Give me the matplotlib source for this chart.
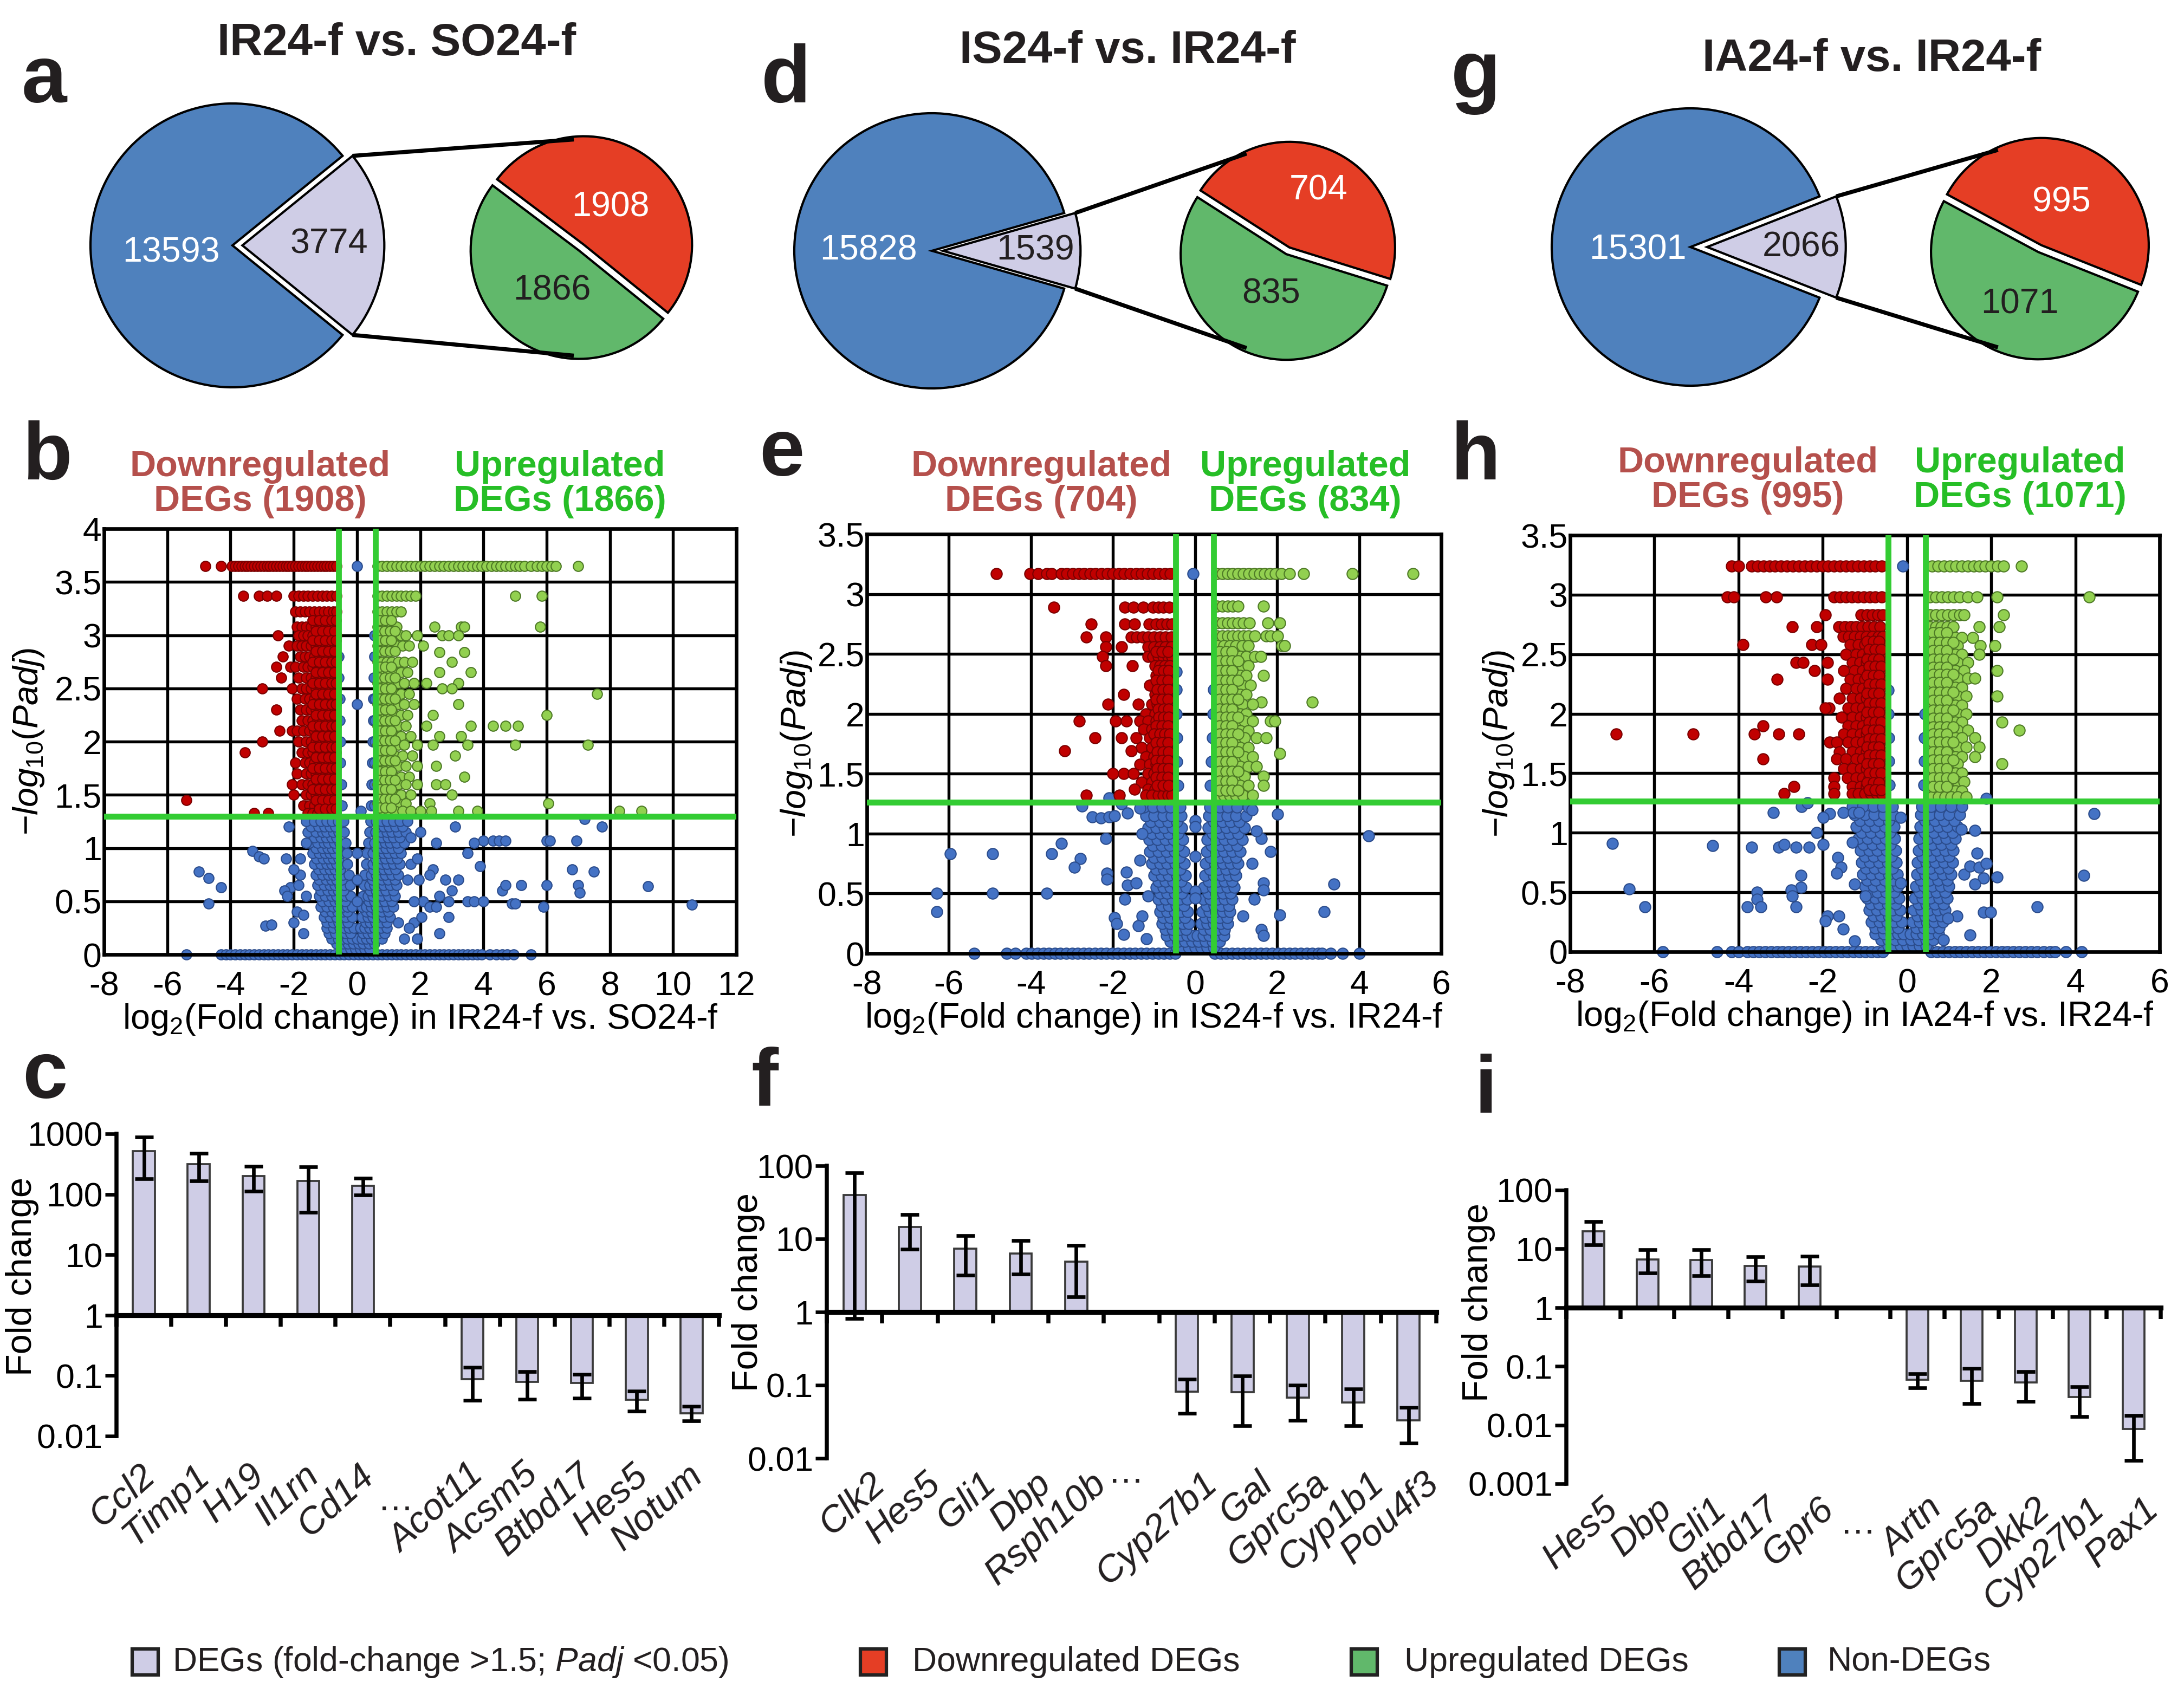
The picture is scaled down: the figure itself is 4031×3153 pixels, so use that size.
import matplotlib
matplotlib.use("Agg")
import matplotlib.pyplot as plt
from matplotlib.patches import ConnectionPatch, Rectangle
from matplotlib.transforms import blended_transform_factory
import numpy as np

plt.rcParams["font.family"] = ["Liberation Sans", "DejaVu Sans"]
plt.rcParams["mathtext.fontset"] = "custom"
plt.rcParams["mathtext.rm"] = "Liberation Sans"
plt.rcParams["mathtext.it"] = "Liberation Sans:italic"
plt.rcParams["mathtext.bf"] = "Liberation Sans:bold"

W, H, DPI = 4031, 3153, 300

# ---------------- data ----------------
# pies: non-DEGs, DEGs, down, up
PIE_A = [13593, 3774, 1908, 1866]
PIE_D = [15828, 1539, 704, 835]
PIE_G = [15301, 2066, 995, 1071]

# volcano b (IR24-f vs SO24-f): rows of (y, [x...]) and scattered (x, y)
B_DOWN = [
    (3.65, [-4.8, -4.3, -3.95, -3.85, -3.75, -3.65, -3.55, -3.45, -3.35, -3.25, -3.15, -3.05, -2.95, -2.85,
            -2.75, -2.65, -2.55, -2.45, -2.35, -2.25, -2.15, -2.05, -1.95, -1.85, -1.75, -1.65, -1.55, -1.45,
            -1.35, -1.25, -1.15, -1.05, -0.95, -0.85, -0.75, -0.65]),
    (3.37, [-3.6, -3.1, -2.85, -2.55, -2.0, -1.85, -1.7, -1.55, -1.4, -1.25, -1.1, -0.95, -0.8, -0.65]),
    (3.22, [-1.95, -1.8, -1.65, -1.5, -1.35, -1.2, -1.05, -0.9, -0.75, -0.65]),
    (3.08, [-1.9, -1.75, -1.6, -1.45, -1.3, -1.15, -1.0, -0.85, -0.7]),
    (3.0, [-2.5, -1.85, -1.7, -1.55, -1.4, -1.25, -1.1, -0.95, -0.8, -0.65]),
    (2.9, [-2.15, -1.9, -1.75, -1.6, -1.45, -1.3, -1.15, -1.0, -0.85, -0.7]),
    (2.8, [-2.35, -1.8, -1.65, -1.5, -1.35, -1.2, -1.05, -0.9, -0.75, -0.65]),
    (2.7, [-2.55, -2.1, -1.95, -1.7, -1.55, -1.4, -1.25, -1.1, -0.95, -0.8, -0.68]),
    (2.6, [-2.4, -1.85, -1.6, -1.45, -1.3, -1.15, -1.0, -0.85, -0.7]),
    (2.5, [-3.0, -2.05, -1.75, -1.6, -1.45, -1.3, -1.15, -1.0, -0.85, -0.7]),
    (2.4, [-1.9, -1.65, -1.5, -1.35, -1.2, -1.05, -0.9, -0.75, -0.65]),
    (2.3, [-2.55, -1.8, -1.6, -1.45, -1.3, -1.15, -1.0, -0.85, -0.7]),
    (2.2, [-1.75, -1.55, -1.4, -1.25, -1.1, -0.95, -0.8, -0.66]),
    (2.1, [-2.45, -2.05, -1.9, -1.7, -1.5, -1.35, -1.2, -1.05, -0.9, -0.75]),
    (2.0, [-3.0, -1.85, -1.6, -1.45, -1.3, -1.15, -1.0, -0.85, -0.7]),
    (1.9, [-3.55, -1.75, -1.55, -1.4, -1.25, -1.1, -0.95, -0.8, -0.66]),
    (1.8, [-1.95, -1.65, -1.5, -1.35, -1.2, -1.05, -0.9, -0.75]),
    (1.7, [-1.9, -1.6, -1.45, -1.3, -1.15, -1.0, -0.85, -0.7]),
    (1.6, [-2.05, -1.75, -1.55, -1.4, -1.25, -1.1, -0.95, -0.8, -0.66]),
    (1.5, [-2.0, -1.6, -1.45, -1.3, -1.15, -1.0, -0.85, -0.7]),
    (1.45, [-5.4]),
    (1.4, [-1.7, -1.5, -1.35, -1.2, -1.05, -0.9, -0.75]),
    (1.33, [-3.25, -2.8, -1.55, -1.4, -1.25, -1.1, -0.95, -0.8, -0.66]),
]
# the solid core of the downregulated cloud
B_DOWN_CORE = [
    (3.14, [-1.4, -1.2, -1.0, -0.8, -0.66]), (3.04, [-1.3, -1.1, -0.9, -0.72]),
    (2.95, [-1.4, -1.2, -1.0, -0.8, -0.66]), (2.85, [-1.3, -1.1, -0.9, -0.72]),
    (2.75, [-1.4, -1.2, -1.0, -0.8, -0.66]), (2.65, [-1.3, -1.1, -0.9, -0.72]),
    (2.55, [-1.4, -1.2, -1.0, -0.8, -0.66]), (2.45, [-1.3, -1.1, -0.9, -0.72]),
    (2.35, [-1.4, -1.2, -1.0, -0.8, -0.66]), (2.25, [-1.3, -1.1, -0.9, -0.72]),
    (2.15, [-1.4, -1.2, -1.0, -0.8, -0.66]), (2.05, [-1.3, -1.1, -0.9, -0.72]),
    (1.95, [-1.4, -1.2, -1.0, -0.8, -0.66]), (1.85, [-1.3, -1.1, -0.9, -0.72]),
    (1.75, [-1.4, -1.2, -1.0, -0.8, -0.66]), (1.65, [-1.3, -1.1, -0.9, -0.72]),
    (1.55, [-1.4, -1.2, -1.0, -0.8, -0.66]), (1.45, [-1.3, -1.1, -0.9, -0.72]),
    (1.37, [-1.2, -1.0, -0.8, -0.66]),
]
B_UP = [
    (3.65, [0.65, 0.8, 0.95, 1.1, 1.25, 1.4, 1.55, 1.7, 1.85, 2.0, 2.15, 2.3, 2.45, 2.6, 2.75, 2.9, 3.05, 3.2,
            3.35, 3.5, 3.65, 3.8, 3.95, 4.1, 4.25, 4.4, 4.55, 4.7, 4.85, 5.0, 5.15, 5.3, 5.5, 5.7, 5.85, 6.0,
            6.15, 6.3, 7.0]),
    (3.37, [0.65, 0.8, 0.95, 1.1, 1.25, 1.4, 1.55, 1.7, 1.85, 5.0, 5.85]),
    (3.22, [0.65, 0.8, 0.95, 1.1, 1.25, 1.4]),
    (3.08, [0.65, 0.8, 0.95, 1.1, 1.25, 2.45, 3.3, 3.4, 5.8]),
    (3.0, [0.65, 0.8, 0.95, 1.1, 1.25, 1.4, 1.55, 1.9, 2.7, 2.9, 3.2]),
    (2.9, [0.65, 0.8, 0.95, 1.1, 1.25, 1.45, 1.65, 2.1]),
    (2.84, [2.6, 3.4]),
    (2.75, [0.65, 0.8, 0.95, 1.1, 1.3, 1.5, 1.75, 3.0]),
    (2.65, [0.7, 0.85, 1.0, 1.2, 1.4, 1.6, 2.6, 3.6]),
    (2.55, [0.65, 0.8, 0.95, 1.1, 1.3, 1.5, 1.8, 2.2, 3.2]),
    (2.5, [2.7, 3.0]),
    (2.45, [0.7, 0.85, 1.0, 1.2, 1.4, 1.65, 7.6]),
    (2.35, [0.65, 0.8, 0.95, 1.1, 1.3, 1.5, 1.8, 3.2]),
    (2.25, [0.7, 0.85, 1.0, 1.2, 1.4, 1.6, 2.4, 6.0]),
    (2.15, [0.65, 0.8, 0.95, 1.1, 1.3, 1.55, 2.2, 3.6, 4.3, 4.7, 5.1]),
    (2.05, [0.7, 0.85, 1.0, 1.2, 1.4, 1.7, 2.6, 3.3]),
    (1.97, [0.65, 0.8, 0.95, 1.1, 1.3, 1.5, 1.9, 2.4, 3.5, 5.0, 7.3]),
    (1.87, [0.7, 0.85, 1.0, 1.2, 1.45, 1.75, 3.1]),
    (1.77, [0.65, 0.8, 0.95, 1.1, 1.3, 1.55, 1.9, 2.5]),
    (1.67, [0.7, 0.85, 1.0, 1.2, 1.4, 1.65, 3.4]),
    (1.6, [0.65, 0.8, 0.95, 1.1, 1.3, 1.55, 1.9, 2.5, 2.8]),
    (1.5, [0.7, 0.85, 1.0, 1.2, 1.4, 1.7, 3.0]),
    (1.42, [0.65, 0.8, 0.95, 1.1, 1.3, 1.55, 2.3, 6.05]),
    (1.35, [0.7, 0.85, 1.0, 1.2, 1.45, 1.7, 2.0, 2.35, 3.2, 3.8, 8.3, 9.0]),
]
B_UP_CORE = [
    (3.14, [0.72, 0.9, 1.08]), (3.04, [0.7, 0.88, 1.05, 1.2]), (2.95, [0.72, 0.9, 1.08]),
    (2.85, [0.7, 0.88, 1.05, 1.2]), (2.7, [0.72, 0.9, 1.08]), (2.6, [0.7, 0.88, 1.05, 1.2]),
    (2.5, [0.72, 0.9, 1.08]), (2.4, [0.7, 0.88, 1.05, 1.2]), (2.3, [0.72, 0.9, 1.08]),
    (2.2, [0.7, 0.88, 1.05, 1.2]), (2.1, [0.72, 0.9, 1.08]), (2.01, [0.7, 0.88, 1.05, 1.2]),
    (1.92, [0.72, 0.9, 1.08]), (1.82, [0.7, 0.88, 1.05, 1.2]), (1.72, [0.72, 0.9, 1.08]),
    (1.64, [0.7, 0.88, 1.05, 1.2]), (1.55, [0.72, 0.9, 1.08]), (1.46, [0.7, 0.88, 1.05, 1.2]),
    (1.38, [0.72, 0.9, 1.08]),
]
B_NON = [
    (0.0, [-5.4, -4.3, -4.15, -4.0, -3.85, -3.7, -3.55, -3.4, -3.25, -3.1, -2.95, -2.8, -2.65, -2.5, -2.35, -2.2,
           -2.05, -1.9, -1.75, -1.6, -1.45, -1.3, -1.15, -1.0, -0.85, -0.7, -0.55, -0.4, -0.25, -0.1, 0.05, 0.2,
           0.35, 0.5, 0.65, 0.8, 0.95, 1.1, 1.25, 1.4, 1.55, 1.7, 1.85, 2.0, 2.15, 2.3, 2.45, 2.6, 2.75, 2.9,
           3.05, 3.2, 3.35, 3.5, 3.65, 3.8, 3.95, 4.2, 4.4, 4.6, 4.75, 4.95, 5.5]),
    (0.05, [-0.5, -0.35, -0.2, -0.05, 0.1, 0.25, 0.4]),
    (0.1, [-0.65, -0.45, -0.28, -0.12, 0.05, 0.2, 0.38, 0.55]),
    (0.15, [-0.8, -0.6, -0.45, -0.3, -0.15, 0.0, 0.15, 0.3, 0.45, 0.6, 0.8]),
    (0.2, [-0.88, -0.68, -0.5, -0.35, -0.2, 0.2, 0.35, 0.5, 0.68, 0.88]),
    (0.25, [-0.95, -0.75, -0.55, -0.4, -0.25, -0.1, 0.1, 0.25, 0.4, 0.55, 0.75, 0.95]),
    (0.3, [-0.95, -0.75, -0.58, -0.42, -0.28, 0.28, 0.42, 0.58, 0.75, 0.95]),
    (0.35, [-1.05, -0.85, -0.65, -0.5, -0.35, -0.15, 0.15, 0.35, 0.5, 0.65, 0.85, 1.05]),
    (0.4, [-1.0, -0.8, -0.62, -0.45, -0.3, 0.3, 0.45, 0.62, 0.8, 1.0]),
    (0.45, [-1.15, -0.95, -0.75, -0.6, -0.45, -0.3, -0.15, 0.15, 0.3, 0.45, 0.6, 0.75, 0.95, 1.15]),
    (0.5, [-1.1, -0.88, -0.7, -0.55, -0.38, 0.38, 0.55, 0.7, 0.88, 1.1]),
    (0.55, [-1.2, -1.0, -0.8, -0.65, -0.5, -0.35, -0.2, 0.2, 0.35, 0.5, 0.65, 0.8, 1.0, 1.2]),
    (0.6, [-1.15, -0.92, -0.75, -0.6, -0.42, 0.42, 0.6, 0.75, 0.92, 1.15]),
    (0.65, [-1.25, -1.05, -0.85, -0.7, -0.55, -0.4, -0.22, 0.22, 0.4, 0.55, 0.7, 0.85, 1.05, 1.25]),
    (0.7, [-1.2, -0.98, -0.8, -0.65, -0.48, 0.48, 0.65, 0.8, 0.98, 1.2]),
    (0.75, [-1.3, -1.1, -0.9, -0.75, -0.6, -0.45, -0.25, 0.25, 0.45, 0.6, 0.75, 0.9, 1.1, 1.3]),
    (0.8, [-1.22, -1.02, -0.85, -0.7, -0.52, 0.52, 0.7, 0.85, 1.02, 1.22]),
    (0.85, [-1.35, -1.15, -0.95, -0.8, -0.65, -0.5, -0.3, 0.3, 0.5, 0.65, 0.8, 0.95, 1.15, 1.35]),
    (0.9, [-1.28, -1.08, -0.9, -0.75, -0.58, 0.58, 0.75, 0.9, 1.08, 1.28]),
    (0.95, [-1.4, -1.2, -1.0, -0.85, -0.7, -0.5, -0.32, 0.32, 0.5, 0.7, 0.85, 1.0, 1.2, 1.4]),
    (1.0, [-1.3, -1.1, -0.92, -0.78, -0.62, 0.62, 0.78, 0.92, 1.1, 1.3]),
    (1.05, [-1.5, -1.25, -1.05, -0.9, -0.72, -0.55, -0.36, 0.36, 0.55, 0.72, 0.9, 1.05, 1.25, 1.5]),
    (1.1, [-1.35, -1.15, -0.98, -0.8, -0.65, 0.65, 0.8, 0.98, 1.15, 1.35]),
    (1.15, [-1.55, -1.3, -1.1, -0.95, -0.75, -0.58, -0.4, 0.4, 0.58, 0.75, 0.95, 1.1, 1.3, 1.55]),
    (1.2, [-1.45, -1.22, -1.02, -0.85, -0.68, 0.68, 0.85, 1.02, 1.22, 1.45]),
    (1.25, [-1.6, -1.35, -1.15, -0.95, -0.78, -0.6, -0.43, 0.43, 0.6, 0.78, 0.95, 1.15, 1.35, 1.6]),
    (1.4, [-0.55, -0.47, 0.45, 0.55]),
    (1.6, [-0.56, -0.5, 0.47, 0.56]),
    (1.8, [-0.57, -0.52, 0.48, 0.56]),
    (2.0, [-0.58, -0.53, 0.5, 0.57]),
    (2.2, [-0.58, -0.55, 0.51, 0.57]),
    (2.4, [-0.58, -0.55, 0.52, 0.57]),
    (2.6, [-0.58, 0.54]),
    (2.8, [-0.58, 0.55]),
    (3.0, [0.56]),
]
B_NON_PTS = [(0.0, 3.65), (0.0, 2.35), (0.12, 1.35), (0.0, 0.95), (0.0, 0.7), (0.0, 0.5),
             (-5.0, 0.78), (-4.7, 0.72), (-4.3, 0.63), (-4.7, 0.48), (-2.9, 0.27), (-2.7, 0.28),
             (-3.3, 0.97), (-3.1, 0.92), (-2.95, 0.9), (-1.8, 0.9), (-2.15, 1.2), (-1.6, 1.05),
             (-1.9, 0.4), (-1.7, 0.37), (-1.6, 0.55), (-2.1, 0.63), (-2.3, 0.6), (-1.8, 0.75),
             (-2.0, 0.8), (-1.85, 0.65), (-2.2, 0.55), (-2.0, 0.3), (-1.7, 0.2), (-2.25, 0.9),
             (2.0, 1.15), (2.4, 0.8), (2.5, 1.05), (3.1, 1.2), (3.5, 0.95), (3.9, 0.83), (3.2, 0.7),
             (2.8, 0.7), (2.6, 0.55), (3.0, 0.6), (2.1, 0.5), (2.3, 0.45), (2.5, 0.45), (2.9, 0.5),
             (3.5, 0.5), (3.7, 0.5), (4.0, 0.5), (4.6, 0.6), (4.7, 0.65), (5.2, 0.65), (6.0, 0.65),
             (7.0, 0.65), (7.05, 0.58), (9.2, 0.64), (10.6, 0.47), (4.9, 0.48), (5.0, 0.48), (5.9, 0.45),
             (7.5, 0.78), (6.8, 0.8), (4.0, 1.07), (4.3, 1.07), (4.5, 1.07), (4.7, 1.07), (6.0, 1.07),
             (6.1, 1.07), (6.95, 1.07), (7.2, 1.27), (7.75, 1.2), (3.7, 1.05), (2.6, 0.2), (2.9, 0.35),
             (1.8, 0.3), (1.5, 0.15), (1.3, 0.3), (1.95, 0.7), (1.7, 0.85), (2.3, 0.75), (1.7, 1.1),
             (1.9, 0.9), (1.6, 0.7), (1.8, 0.5), (2.05, 0.35), (1.65, 0.25), (1.9, 0.15)]

# volcano e (IS24-f vs IR24-f)
E_DOWN = [
    (3.17, [-4.85, -4.03, -3.82, -3.62, -3.5, -3.26, -3.12, -2.98, -2.84, -2.7, -2.56, -2.42, -2.28, -2.14, -2.0,
            -1.86, -1.72, -1.58, -1.44, -1.3, -1.16, -1.02, -0.88, -0.74, -0.6]),
    (2.89, [-3.44, -1.71, -1.5, -1.26, -1.03, -0.9, -0.77, -0.63]),
    (2.75, [-2.53, -1.71, -1.47, -1.12, -0.95, -0.82, -0.68, -0.56]),
    (2.64, [-2.65, -2.18, -1.56, -1.42, -1.28, -1.14, -1.0, -0.86, -0.72, -0.58]),
    (2.56, [-2.18, -1.79, -1.15, -1.0, -0.86, -0.72, -0.58]),
    (2.48, [-2.26, -1.15, -1.02, -0.9, -0.78, -0.66, -0.56]),
    (2.4, [-2.18, -1.53, -0.98, -0.86, -0.74, -0.62]),
    (2.32, [-0.95, -0.82, -0.7, -0.58]),
    (2.24, [-1.1, -0.9, -0.78, -0.66, -0.56]),
    (2.16, [-1.74, -0.98, -0.86, -0.74, -0.62]),
    (2.08, [-2.12, -1.38, -1.05, -0.92, -0.8, -0.68, -0.57]),
    (2.0, [-1.2, -0.98, -0.86, -0.74, -0.62]),
    (1.94, [-2.82, -1.94, -1.68, -1.35, -1.15, -0.95, -0.82, -0.7, -0.58]),
    (1.87, [-1.25, -1.05, -0.9, -0.78, -0.66]),
    (1.8, [-2.44, -1.79, -1.44, -1.1, -0.95, -0.82, -0.7, -0.58]),
    (1.72, [-1.3, -1.05, -0.9, -0.78, -0.66]),
    (1.69, [-3.18, -1.56]),
    (1.64, [-1.2, -1.0, -0.86, -0.74, -0.62]),
    (1.58, [-1.35, -1.1, -0.95, -0.82, -0.7, -0.58]),
    (1.5, [-2.0, -1.74, -1.5, -1.15, -1.0, -0.86, -0.74, -0.62]),
    (1.43, [-1.3, -1.05, -0.9, -0.78, -0.66, -0.56]),
    (1.37, [-1.47, -1.15, -0.98, -0.86, -0.74, -0.62]),
    (1.32, [-2.65, -1.85, -1.2, -1.05, -0.9, -0.78, -0.66, -0.56]),
]
E_DOWN_CORE = [
    (2.52, [-0.95, -0.8, -0.66]), (2.36, [-0.9, -0.76, -0.64]), (2.28, [-0.95, -0.8, -0.66]),
    (2.2, [-0.92, -0.78, -0.64]), (2.12, [-0.95, -0.8, -0.66]), (2.04, [-0.9, -0.76, -0.64]),
    (1.97, [-0.88, -0.76, -0.64]), (1.9, [-0.95, -0.8, -0.66]), (1.83, [-1.0, -0.86, -0.74, -0.62]),
    (1.76, [-0.95, -0.8, -0.66]), (1.68, [-0.92, -0.78, -0.64]), (1.61, [-0.95, -0.8, -0.66]),
    (1.54, [-0.92, -0.78, -0.64]), (1.47, [-0.95, -0.8, -0.66]), (1.4, [-0.92, -0.78, -0.64]),
]
E_UP = [
    (3.17, [0.53, 0.66, 0.79, 0.92, 1.05, 1.18, 1.31, 1.44, 1.57, 1.7, 1.83, 1.96, 2.1, 2.3, 2.64, 3.83, 5.31]),
    (2.9, [0.53, 0.66, 0.79, 0.92, 1.05, 1.67]),
    (2.76, [0.53, 0.66, 0.79, 0.92, 1.05, 1.18, 1.33, 1.78, 2.07]),
    (2.65, [0.53, 0.66, 0.79, 0.92, 1.05, 1.18, 1.3, 1.46, 1.73, 1.84, 2.01]),
    (2.57, [0.55, 0.7, 0.85, 1.0, 1.15, 1.3, 2.12, 2.18]),
    (2.48, [0.53, 0.66, 0.8, 0.95, 1.1, 1.25, 1.45, 1.6]),
    (2.4, [0.55, 0.7, 0.85, 1.0, 1.15, 1.3]),
    (2.32, [0.53, 0.66, 0.8, 0.95, 1.1, 1.25, 1.67]),
    (2.24, [0.55, 0.7, 0.85, 1.0, 1.15, 1.35]),
    (2.16, [0.53, 0.66, 0.8, 0.95, 1.1, 1.25]),
    (2.1, [1.61, 2.86]),
    (2.08, [0.55, 0.7, 0.85, 1.0, 1.15, 1.4]),
    (2.0, [0.53, 0.66, 0.8, 0.95, 1.1, 1.25]),
    (1.94, [0.55, 0.7, 0.85, 1.0, 1.2, 1.4, 1.84, 1.95]),
    (1.86, [0.53, 0.66, 0.8, 0.95, 1.1, 1.3]),
    (1.8, [0.55, 0.7, 0.85, 1.0, 1.2, 1.5, 1.73]),
    (1.72, [0.53, 0.66, 0.8, 0.95, 1.1, 1.3]),
    (1.67, [2.07]),
    (1.64, [0.55, 0.7, 0.85, 1.0, 1.2, 1.4]),
    (1.56, [0.53, 0.66, 0.8, 0.95, 1.1, 1.3, 1.5]),
    (1.48, [0.55, 0.7, 0.85, 1.0, 1.2, 1.67]),
    (1.4, [0.53, 0.66, 0.8, 0.95, 1.1, 1.3, 1.67]),
    (1.32, [0.55, 0.7, 0.85, 1.0, 1.16, 1.4]),
]
E_UP_CORE = [
    (2.52, [0.6, 0.75, 0.9]), (2.44, [0.6, 0.75, 0.9, 1.05]), (2.36, [0.6, 0.75, 0.9]),
    (2.28, [0.6, 0.75, 0.9, 1.05]), (2.2, [0.6, 0.75, 0.9]), (2.12, [0.6, 0.75, 0.9, 1.05]),
    (2.04, [0.6, 0.75, 0.9]), (1.97, [0.6, 0.75, 0.9, 1.05]), (1.9, [0.6, 0.75, 0.9]),
    (1.83, [0.6, 0.75, 0.9, 1.05]), (1.76, [0.6, 0.75, 0.9]), (1.68, [0.6, 0.75, 0.9, 1.05]),
    (1.6, [0.6, 0.75, 0.9]), (1.52, [0.6, 0.75, 0.9, 1.05]), (1.44, [0.6, 0.75, 0.9]),
    (1.36, [0.6, 0.75, 0.9, 1.05]),
]
E_NON = [
    (0.0, [-5.38, -4.59, -4.38, -4.12, -3.98, -3.84, -3.7, -3.56, -3.42, -3.28, -3.14, -3.0, -2.86, -2.72, -2.58,
           -2.44, -2.3, -2.16, -2.02, -1.88, -1.74, -1.6, -1.46, -1.32, -1.18, -1.04, -0.9, -0.76, -0.62, -0.48,
           0.48, 0.62, 0.76, 0.9, 1.04, 1.18, 1.32, 1.46, 1.6, 1.74, 1.88, 2.02, 2.16, 2.3, 2.44, 2.58, 2.72,
           2.86, 3.0, 3.1, 3.3, 3.6, 4.0]),
    (0.05, [-0.45, -0.3, -0.15, 0.0, 0.15, 0.3, 0.45]),
    (0.1, [-0.6, -0.42, -0.25, -0.08, 0.08, 0.25, 0.42, 0.6]),
    (0.15, [-0.7, -0.5, -0.35, -0.2, -0.06, 0.06, 0.2, 0.35, 0.5, 0.7]),
    (0.2, [-0.72, -0.55, -0.38, -0.22, 0.22, 0.38, 0.55, 0.72]),
    (0.25, [-0.8, -0.62, -0.45, -0.3, -0.15, 0.15, 0.3, 0.45, 0.62, 0.8]),
    (0.3, [-0.78, -0.6, -0.42, -0.25, 0.25, 0.42, 0.6, 0.78]),
    (0.35, [-0.85, -0.68, -0.5, -0.35, -0.18, 0.18, 0.35, 0.5, 0.68, 0.85]),
    (0.4, [-0.82, -0.64, -0.46, -0.28, 0.28, 0.46, 0.64, 0.82]),
    (0.45, [-0.9, -0.72, -0.55, -0.38, -0.2, 0.2, 0.38, 0.55, 0.72, 0.9]),
    (0.5, [-0.86, -0.68, -0.5, -0.32, 0.32, 0.5, 0.68, 0.86]),
    (0.55, [-0.95, -0.78, -0.6, -0.42, -0.22, 0.22, 0.42, 0.6, 0.78, 0.95]),
    (0.6, [-0.9, -0.72, -0.54, -0.34, 0.34, 0.54, 0.72, 0.9]),
    (0.65, [-1.0, -0.82, -0.64, -0.45, -0.24, 0.24, 0.45, 0.64, 0.82, 1.0]),
    (0.7, [-0.95, -0.76, -0.56, -0.36, 0.36, 0.56, 0.76, 0.95]),
    (0.75, [-1.05, -0.86, -0.68, -0.48, -0.26, 0.26, 0.48, 0.68, 0.86, 1.05]),
    (0.8, [-1.0, -0.8, -0.6, -0.38, 0.38, 0.6, 0.8, 1.0]),
    (0.85, [-1.1, -0.9, -0.7, -0.5, -0.28, 0.28, 0.5, 0.7, 0.9, 1.1]),
    (0.9, [-1.02, -0.82, -0.62, -0.4, 0.4, 0.62, 0.82, 1.02]),
    (0.95, [-1.12, -0.92, -0.72, -0.52, -0.3, 0.3, 0.52, 0.72, 0.92, 1.15]),
    (1.0, [-1.05, -0.84, -0.64, -0.42, 0.42, 0.64, 0.84, 1.05]),
    (1.05, [-1.15, -0.95, -0.75, -0.55, -0.32, 0.32, 0.55, 0.75, 0.95, 1.2]),
    (1.1, [-1.08, -0.86, -0.66, -0.45, 0.45, 0.66, 0.86, 1.08]),
    (1.15, [-1.2, -1.0, -0.78, -0.58, -0.34, 0.34, 0.58, 0.78, 1.0, 1.25]),
    (1.22, [-1.25, -1.02, -0.8, -0.6, -0.36, 0.36, 0.6, 0.8, 1.02, 1.3]),
    (1.4, [-0.42, 0.38]),
    (1.6, [-0.44, 0.4]),
    (1.8, [-0.45, 0.42]),
    (2.0, [-0.46, 0.44]),
    (2.2, [-0.46, 0.45]),
    (2.35, [-0.46]),
]
E_NON_PTS = [(-0.05, 3.17), (0.0, 1.11), (0.0, 1.06), (0.0, 0.81), (0.0, 0.52), (0.0, 0.46),
             (-5.97, 0.83), (-4.94, 0.83), (-6.29, 0.5), (-4.94, 0.5), (-3.62, 0.5), (-6.29, 0.35),
             (-3.5, 0.83), (-3.26, 0.92), (-2.79, 0.79), (-2.94, 0.72), (-2.15, 0.67), (-2.15, 0.62),
             (-2.18, 0.96), (-2.5, 1.14), (-2.29, 1.13), (-2.09, 1.14), (-1.97, 1.15), (-2.09, 1.3),
             (-2.76, 1.23), (-1.79, 1.25), (-1.65, 1.17), (-1.35, 1.21), (-1.68, 0.68), (-1.65, 0.57),
             (-1.71, 0.45), (-1.97, 0.3), (-1.91, 0.25), (-1.74, 0.16), (-1.29, 0.31), (-1.38, 0.23),
             (-1.18, 0.12), (-1.29, 1.0), (-1.35, 0.78), (-1.44, 0.59), (-1.15, 0.48),
             (4.23, 0.98), (3.38, 0.58), (3.15, 0.35), (2.07, 0.32), (1.84, 0.85), (1.61, 0.96),
             (1.5, 1.02), (2.01, 1.16), (1.39, 1.2), (1.67, 0.59), (1.67, 0.53), (1.44, 0.45),
             (1.61, 0.2), (1.67, 0.15), (1.16, 0.31), (1.39, 0.75)]

# volcano h (IA24-f vs IR24-f)
H_DOWN = [
    (3.24, [-4.16, -4.0, -3.69, -3.55, -3.41, -3.27, -3.13, -2.99, -2.85, -2.71, -2.57, -2.43, -2.29, -2.15, -2.01,
            -1.87, -1.73, -1.59, -1.45, -1.31, -1.17, -1.03, -0.89, -0.75, -0.6]),
    (2.98, [-4.27, -4.11, -3.35, -3.1, -1.73, -1.59, -1.45, -1.31, -1.17, -1.03, -0.89, -0.75, -0.6]),
    (2.83, [-1.94, -1.09, -0.95, -0.82, -0.69, -0.58]),
    (2.73, [-2.73, -2.15, -1.62, -1.48, -1.34, -1.2, -1.06, -0.92, -0.78, -0.64]),
    (2.65, [-1.52, -1.38, -1.24, -1.1, -0.96, -0.82, -0.68, -0.58]),
    (2.58, [-3.9, -2.26, -2.04, -1.35, -1.15, -1.0, -0.86, -0.72, -0.6]),
    (2.5, [-1.45, -1.2, -1.05, -0.9, -0.76, -0.64]),
    (2.43, [-2.63, -2.47, -1.89, -1.3, -1.12, -0.96, -0.82, -0.68, -0.58]),
    (2.36, [-2.2, -1.5, -1.25, -1.05, -0.9, -0.76, -0.64]),
    (2.29, [-3.08, -1.89, -1.35, -1.15, -1.0, -0.86, -0.72, -0.6]),
    (2.21, [-1.45, -1.2, -1.05, -0.9, -0.76, -0.64]),
    (2.13, [-1.6, -1.3, -1.1, -0.96, -0.82, -0.68, -0.58]),
    (2.05, [-1.85, -1.94, -1.4, -1.2, -1.05, -0.9, -0.76, -0.64]),
    (1.97, [-1.55, -1.3, -1.1, -0.96, -0.82, -0.68, -0.58]),
    (1.9, [-3.42, -1.4, -1.2, -1.05, -0.9, -0.76, -0.64]),
    (1.83, [-6.9, -5.08, -3.63, -3.05, -2.57, -1.5, -1.3, -1.1, -0.96, -0.82, -0.68, -0.58]),
    (1.76, [-1.83, -1.67, -1.4, -1.2, -1.05, -0.9, -0.76, -0.64]),
    (1.68, [-1.6, -1.3, -1.1, -0.96, -0.82, -0.68, -0.58]),
    (1.62, [-3.42, -1.67, -1.45, -1.2, -1.05, -0.9, -0.76, -0.64]),
    (1.54, [-1.5, -1.3, -1.1, -0.96, -0.82, -0.68, -0.58]),
    (1.46, [-1.73, -1.41, -1.2, -1.05, -0.9, -0.76, -0.64]),
    (1.39, [-2.68, -1.73, -1.3, -1.1, -0.96, -0.82, -0.68, -0.58]),
    (1.33, [-2.92, -1.73, -1.3, -1.15, -1.0, -0.86, -0.72, -0.6]),
]
H_DOWN_CORE = [
    (2.61, [-0.95, -0.8, -0.66]), (2.54, [-0.9, -0.76, -0.62]), (2.46, [-0.95, -0.8, -0.66]),
    (2.4, [-0.9, -0.76, -0.62]), (2.32, [-0.95, -0.8, -0.66]), (2.25, [-0.9, -0.76, -0.62]),
    (2.17, [-0.95, -0.8, -0.66]), (2.09, [-0.9, -0.76, -0.62]), (2.01, [-0.95, -0.8, -0.66]),
    (1.93, [-0.9, -0.76, -0.62]), (1.86, [-0.95, -0.8, -0.66]), (1.79, [-0.9, -0.76, -0.62]),
    (1.72, [-0.95, -0.8, -0.66]), (1.65, [-0.9, -0.76, -0.62]), (1.58, [-0.95, -0.8, -0.66]),
    (1.5, [-0.9, -0.76, -0.62]), (1.42, [-0.95, -0.8, -0.66]), (1.36, [-0.9, -0.76, -0.62]),
]
H_UP = [
    (3.24, [0.6, 0.74, 0.88, 1.02, 1.16, 1.3, 1.44, 1.58, 1.72, 1.86, 2.0, 2.15, 2.3, 2.72]),
    (2.98, [0.55, 0.69, 0.83, 0.97, 1.11, 1.25, 1.45, 1.66, 2.14, 4.33]),
    (2.83, [0.55, 0.69, 0.83, 0.97, 1.11, 1.25, 1.35, 2.3]),
    (2.73, [0.55, 0.68, 0.82, 0.96, 1.1, 1.72, 2.19]),
    (2.64, [0.55, 0.7, 0.85, 1.0, 1.15, 1.3, 1.56]),
    (2.57, [0.6, 0.75, 0.9, 1.05, 1.2, 1.74, 2.09]),
    (2.5, [0.55, 0.7, 0.85, 1.0, 1.15, 1.3, 1.72]),
    (2.43, [0.6, 0.75, 0.9, 1.05, 1.2, 1.45]),
    (2.36, [0.55, 0.7, 0.85, 1.0, 1.15, 1.35, 2.14]),
    (2.3, [0.6, 0.75, 0.9, 1.05, 1.2, 1.45, 1.61]),
    (2.22, [0.55, 0.7, 0.85, 1.0, 1.15, 1.3]),
    (2.15, [0.6, 0.75, 0.9, 1.05, 1.2, 1.4, 2.14]),
    (2.07, [0.55, 0.7, 0.85, 1.0, 1.15, 1.3]),
    (2.0, [0.6, 0.75, 0.9, 1.05, 1.2, 1.4]),
    (1.93, [0.55, 0.7, 0.85, 1.0, 1.15, 1.3, 2.25]),
    (1.86, [0.6, 0.75, 0.9, 1.05, 1.2, 1.45, 2.67]),
    (1.8, [0.55, 0.7, 0.85, 1.0, 1.15, 1.3, 1.61]),
    (1.72, [0.6, 0.75, 0.9, 1.05, 1.2, 1.4, 1.72]),
    (1.64, [0.55, 0.7, 0.85, 1.0, 1.15, 1.3, 1.61]),
    (1.58, [0.6, 0.75, 0.9, 1.05, 1.2, 2.25]),
    (1.5, [0.55, 0.7, 0.85, 1.0, 1.15, 1.3]),
    (1.43, [0.6, 0.75, 0.9, 1.05, 1.2, 1.35]),
    (1.35, [0.55, 0.7, 0.85, 1.0, 1.15, 1.3]),
    (1.3, [0.6, 0.75, 0.9, 1.05, 1.2, 1.4]),
]
H_NON = [
    (0.0, [-5.8, -4.51, -4.16, -4.0, -3.79, -3.65, -3.51, -3.37, -3.23, -3.09, -2.95, -2.81, -2.67, -2.53, -2.39,
           -2.25, -2.11, -1.97, -1.83, -1.69, -1.55, -1.41, -1.27, -1.13, -0.99, -0.85, -0.71, -0.57, 0.57, 0.71,
           0.85, 0.99, 1.13, 1.27, 1.41, 1.55, 1.69, 1.83, 1.97, 2.11, 2.25, 2.39, 2.53, 2.67, 2.81, 2.95, 3.09,
           3.25, 3.4, 3.52, 3.78, 4.15]),
    (0.05, [-0.45, -0.3, -0.15, 0.0, 0.15, 0.3, 0.45]),
    (0.1, [-0.62, -0.45, -0.28, -0.1, 0.1, 0.28, 0.45, 0.62]),
    (0.15, [-0.75, -0.55, -0.38, -0.22, -0.08, 0.08, 0.22, 0.38, 0.55, 0.75]),
    (0.2, [-0.76, -0.58, -0.4, -0.22, 0.22, 0.4, 0.58, 0.76]),
    (0.25, [-0.85, -0.65, -0.47, -0.3, -0.13, 0.13, 0.3, 0.47, 0.65, 0.85]),
    (0.3, [-0.8, -0.62, -0.43, -0.25, 0.25, 0.43, 0.62, 0.8]),
    (0.35, [-0.9, -0.72, -0.52, -0.34, -0.16, 0.16, 0.34, 0.52, 0.72, 0.9]),
    (0.4, [-0.86, -0.66, -0.46, -0.27, 0.27, 0.46, 0.66, 0.86]),
    (0.45, [-0.95, -0.76, -0.56, -0.37, -0.19, 0.19, 0.37, 0.56, 0.76, 0.95]),
    (0.5, [-0.9, -0.7, -0.5, -0.3, 0.3, 0.5, 0.7, 0.9]),
    (0.55, [-1.0, -0.8, -0.6, -0.4, -0.21, 0.21, 0.4, 0.6, 0.8, 1.0]),
    (0.6, [-0.95, -0.74, -0.53, -0.32, 0.32, 0.53, 0.74, 0.95]),
    (0.65, [-1.05, -0.85, -0.64, -0.43, -0.23, 0.23, 0.43, 0.64, 0.85, 1.05]),
    (0.7, [-0.98, -0.77, -0.56, -0.35, 0.35, 0.56, 0.77, 0.98]),
    (0.75, [-1.08, -0.88, -0.67, -0.46, -0.25, 0.25, 0.46, 0.67, 0.88, 1.08]),
    (0.8, [-1.0, -0.8, -0.58, -0.37, 0.37, 0.58, 0.8, 1.0]),
    (0.85, [-1.1, -0.9, -0.7, -0.49, -0.27, 0.27, 0.49, 0.7, 0.9, 1.1]),
    (0.9, [-1.04, -0.82, -0.6, -0.39, 0.39, 0.6, 0.82, 1.04]),
    (0.95, [-1.15, -0.93, -0.72, -0.51, -0.29, 0.29, 0.51, 0.72, 0.93, 1.15]),
    (1.0, [-1.08, -0.86, -0.63, -0.41, 0.41, 0.63, 0.86, 1.08]),
    (1.05, [-1.2, -0.96, -0.75, -0.53, -0.31, 0.31, 0.53, 0.75, 0.96, 1.2]),
    (1.1, [-1.12, -0.88, -0.66, -0.43, 0.43, 0.66, 0.88, 1.12]),
    (1.15, [-1.25, -1.0, -0.78, -0.55, -0.33, 0.33, 0.55, 0.78, 1.0, 1.25]),
    (1.22, [-1.3, -1.05, -0.8, -0.57, -0.35, 0.35, 0.57, 0.8, 1.05, 1.3]),
    (1.4, [-0.42, 0.4]),
    (1.6, [-0.43, 0.41]),
    (1.8, [-0.44, 0.42]),
    (2.0, [-0.45, 0.43]),
    (2.2, [-0.45]),
]
H_UP_CORE = [
    (2.68, [0.62, 0.78, 0.94]), (2.6, [0.62, 0.78, 0.94, 1.1]), (2.53, [0.62, 0.78, 0.94]),
    (2.46, [0.62, 0.78, 0.94, 1.1]), (2.39, [0.62, 0.78, 0.94]), (2.33, [0.62, 0.78, 0.94, 1.1]),
    (2.26, [0.62, 0.78, 0.94]), (2.18, [0.62, 0.78, 0.94, 1.1]), (2.11, [0.62, 0.78, 0.94]),
    (2.03, [0.62, 0.78, 0.94, 1.1]), (1.96, [0.62, 0.78, 0.94]), (1.89, [0.62, 0.78, 0.94, 1.1]),
    (1.83, [0.62, 0.78, 0.94]), (1.76, [0.62, 0.78, 0.94, 1.1]), (1.68, [0.62, 0.78, 0.94]),
    (1.61, [0.62, 0.78, 0.94, 1.1]), (1.54, [0.62, 0.78, 0.94]), (1.46, [0.62, 0.78, 0.94, 1.1]),
    (1.39, [0.62, 0.78, 0.94]),
]
H_NON_PTS = [(-0.1, 3.24), (-0.15, 1.13), (-0.15, 0.58),
             (-7.0, 0.91), (-6.6, 0.53), (-6.23, 0.38), (-4.62, 0.89), (-3.69, 0.88), (-3.05, 0.88),
             (-2.92, 0.9), (-2.63, 0.88), (-2.33, 0.88), (-1.99, 0.9), (-3.18, 1.17), (-2.5, 1.22),
             (-2.36, 1.25), (-1.83, 1.16), (-1.51, 1.17), (-1.27, 1.17), (-1.14, 1.17), (-2.15, 1.0),
             (-1.99, 1.13), (-1.64, 0.79), (-1.57, 0.71), (-1.67, 0.66), (-2.52, 0.64), (-2.52, 0.54),
             (-2.75, 0.52), (-2.73, 0.47), (-2.63, 0.38), (-3.56, 0.5), (-3.56, 0.44), (-3.79, 0.38),
             (-3.47, 0.38), (-1.89, 0.3), (-1.62, 0.3), (-1.94, 0.26), (-1.51, 0.19), (-1.25, 0.09),
             (-1.25, 0.57), (-0.99, 0.47), (-1.3, 0.92),
             (4.44, 1.16), (4.2, 0.64), (3.09, 0.38), (1.82, 0.33), (1.98, 0.33), (2.14, 0.63),
             (1.82, 0.62), (1.61, 0.57), (1.66, 0.83), (1.29, 1.03), (1.61, 1.02), (1.35, 0.65),
             (1.5, 0.72), (1.72, 0.71), (1.88, 0.74), (1.19, 0.3), (1.5, 0.14), (1.35, 1.29),
             (1.88, 1.29), (0.97, 0.28), (0.87, 0.1)]

# bar charts: fold change, error top, error bottom
C_GENES = ["Ccl2", "Timp1", "H19", "Il1rn", "Cd14", "Acot11", "Acsm5", "Btbd17", "Hes5", "Notum"]
C_FC = [522, 318, 199, 167, 139, 0.087, 0.079, 0.075, 0.040, 0.024]
C_HI = [880, 473, 290, 287, 183, 0.138, 0.117, 0.106, 0.055, 0.031]
C_LO = [180, 165, 113, 50, 97, 0.039, 0.041, 0.042, 0.026, 0.018]

F_GENES = ["Clk2", "Hes5", "Gli1", "Dbp", "Rsph10b", "Cyp27b1", "Gal", "Gprc5a", "Cyp1b1", "Pou4f3"]
F_FC = [40, 14.5, 7.3, 6.3, 4.9, 0.082, 0.080, 0.067, 0.058, 0.033]
F_HI = [80, 21.5, 11.1, 9.5, 8.2, 0.121, 0.134, 0.100, 0.089, 0.050]
F_LO = [0.82, 7.2, 3.2, 3.3, 1.6, 0.041, 0.028, 0.033, 0.028, 0.016]

I_GENES = ["Hes5", "Dbp", "Gli1", "Btbd17", "Gpr6", "Artn", "Gprc5a", "Dkk2", "Cyp27b1", "Pax1"]
I_FC = [20, 6.6, 6.5, 5.1, 5.0, 0.059, 0.057, 0.053, 0.030, 0.0086]
I_HI = [29, 9.6, 9.6, 7.4, 7.5, 0.074, 0.092, 0.081, 0.045, 0.0145]
I_LO = [11.6, 3.9, 3.5, 2.8, 2.45, 0.043, 0.023, 0.025, 0.014, 0.0025]

LEGEND_LABELS = [r"DEGs (fold-change >1.5; $\mathit{Padj}$ <0.05)", "Downregulated DEGs",
                 "Upregulated DEGs", "Non-DEGs"]

# ---------------- style ----------------
PIE_BLUE = "#4F81BD"
LAV = "#CFCDE6"
PIE_RED = "#E53E25"
PIE_GREEN = "#61B86B"
DOT_RED, DOT_RED_E = "#C00000", "#7A0000"
DOT_GREEN, DOT_GREEN_E = "#92D050", "#4E7A26"
DOT_BLUE, DOT_BLUE_E = "#4472C4", "#2B4C8C"
LINE_GREEN = "#33CC33"
TXT = "#231F20"

fig = plt.figure(figsize=(W / DPI, H / DPI), dpi=DPI)


def px_axes(x0, y0, x1, y1):
    return fig.add_axes([x0 / W, 1 - y1 / H, (x1 - x0) / W, (y1 - y0) / H])


def ftext(x, y, s, **kw):
    fig.text(x / W, 1 - y / H, s, **kw)


def flat(*row_sets):
    xs, ys = [], []
    for rows in row_sets:
        for y, xl in rows:
            xs += xl
            ys += [y] * len(xl)
    return xs, ys


# ---------------- pies ----------------
def pie_pair(vals, big_c, big_r, small_c, small_r, expl, red_mid, link, lab_big, lab_small):
    non, deg, down, up = vals
    R = 1.25
    ax1 = px_axes(big_c[0] - R * big_r, big_c[1] - R * big_r, big_c[0] + R * big_r, big_c[1] + R * big_r)
    lav_deg = 360 * deg / (deg + non)
    ax1.pie([deg, non], colors=[LAV, PIE_BLUE], startangle=-lav_deg / 2, explode=[expl, 0],
            wedgeprops=dict(edgecolor="black", linewidth=1.0))
    ax1.set_xlim(-R, R)
    ax1.set_ylim(-R, R)
    ax1.text(lab_big[0][0], lab_big[0][1], str(non), color="white", fontsize=15.5, ha="center", va="center")
    ax1.text(lab_big[1][0], lab_big[1][1], str(deg), color=TXT, fontsize=15.5, ha="center", va="center")

    ax2 = px_axes(small_c[0] - R * small_r, small_c[1] - R * small_r,
                  small_c[0] + R * small_r, small_c[1] + R * small_r)
    red_deg = 360 * down / (down + up)
    ax2.pie([down, up], colors=[PIE_RED, PIE_GREEN], startangle=red_mid - red_deg / 2,
            explode=[0.035, 0.035], wedgeprops=dict(edgecolor="black", linewidth=1.0))
    ax2.set_xlim(-R, R)
    ax2.set_ylim(-R, R)
    ax2.text(lab_small[0][0], lab_small[0][1], str(down), color="white", fontsize=15.5, ha="center", va="center")
    ax2.text(lab_small[1][0], lab_small[1][1], str(up), color=TXT, fontsize=15.5, ha="center", va="center")

    h = np.radians(lav_deg / 2)
    L = np.radians(link)
    for sgn in (1, -1):
        cp = ConnectionPatch(xyA=(expl + np.cos(h), sgn * np.sin(h)), coordsA="data", axesA=ax1,
                             xyB=(np.cos(L), sgn * np.sin(L)), coordsB="data", axesB=ax2,
                             color="black", lw=1.8, shrinkA=0, shrinkB=0, capstyle="butt")
        fig.add_artist(cp)


pie_pair(PIE_A, (429, 453), 262, (1073, 457), 200, 0.07, 52, 94,
         [(-0.43, -0.05), (0.68, 0.01)], [(0.27, 0.37), (-0.27, -0.40)])
pie_pair(PIE_D, (1720, 463), 254, (2377, 463), 195, 0.08, 65, 113,
         [(-0.46, 0.0), (0.75, 0.0)], [(0.29, 0.57), (-0.16, -0.41)])
pie_pair(PIE_G, (3120, 456), 256, (3765, 459), 198, 0.12, 65, 113,
         [(-0.38, -0.02), (0.80, 0.0)], [(0.20, 0.43), (-0.19, -0.52)])

ftext(732, 102, "IR24-f vs. SO24-f", fontsize=20, fontweight="bold", ha="center", va="baseline", color=TXT)
ftext(2081, 116, "IS24-f vs. IR24-f", fontsize=20, fontweight="bold", ha="center", va="baseline", color=TXT)
ftext(3455, 131, "IA24-f vs. IR24-f", fontsize=20, fontweight="bold", ha="center", va="baseline", color=TXT)


# ---------------- volcanoes ----------------
def volcano(box, xlim, ylim, down, up, non, non_pts, vx, hy, xlabel, s):
    ax = px_axes(*box)
    nx, ny = flat(non)
    nx += [p[0] for p in non_pts]
    ny += [p[1] for p in non_pts]
    ax.scatter(nx, ny, s=s, c=DOT_BLUE, edgecolors=DOT_BLUE_E, linewidths=0.5, zorder=2, clip_on=False)
    dx, dy = flat(*down)
    ax.scatter(dx, dy, s=s, c=DOT_RED, edgecolors=DOT_RED_E, linewidths=0.5, zorder=3, clip_on=False)
    ux, uy = flat(*up)
    ax.scatter(ux, uy, s=s, c=DOT_GREEN, edgecolors=DOT_GREEN_E, linewidths=0.5, zorder=3, clip_on=False)
    for v in vx:
        ax.axvline(v, color=LINE_GREEN, lw=2.6, zorder=5)
    ax.axhline(hy, color=LINE_GREEN, lw=2.6, zorder=5)
    ax.set_xlim(*xlim)
    ax.set_ylim(*ylim)
    xt = list(range(xlim[0], xlim[1] + 1, 2))
    ax.set_xticks(xt)
    ax.set_xticklabels([str(v) for v in xt])
    yt = list(np.arange(0, ylim[1] + 0.01, 0.5))
    ax.set_yticks(yt)
    ax.set_yticklabels([f"{v:g}" for v in yt])
    ax.grid(True, color="black", lw=1.3)
    ax.set_axisbelow(True)
    for sp in ax.spines.values():
        sp.set_linewidth(1.6)
    ax.tick_params(length=0, labelsize=15)
    ax.tick_params(axis="x", pad=7)
    ax.tick_params(axis="y", pad=1)
    ax.set_xlabel(xlabel, fontsize=15.5, labelpad=0)
    ax.set_ylabel(r"$-log_{10}(Padj)$", fontsize=15.5)
    ax.yaxis.set_label_coords(-0.092, 0.5)
    return ax


volcano((192, 976, 1359, 1762), (-8, 12), (0, 4), (B_DOWN, B_DOWN_CORE), (B_UP, B_UP_CORE), B_NON, B_NON_PTS,
        (-0.585, 0.585), 1.30, r"log$_2$(Fold change) in IR24-f vs. SO24-f", 20)
volcano((1600, 986, 2660, 1760), (-8, 6), (0, 3.5), (E_DOWN, E_DOWN_CORE), (E_UP, E_UP_CORE), E_NON, E_NON_PTS,
        (-0.47, 0.45), 1.26, r"log$_2$(Fold change) in IS24-f vs. IR24-f", 24)
volcano((2898, 988, 3986, 1757), (-8, 6), (0, 3.5), (H_DOWN, H_DOWN_CORE), (H_UP, H_UP_CORE), H_NON, H_NON_PTS,
        (-0.45, 0.44), 1.265, r"log$_2$(Fold change) in IA24-f vs. IR24-f", 24)

for xd, xu, y, nd, nu in ((480, 1033, 894, 1908, 1866), (1922, 2409, 894, 704, 834), (3226, 3728, 887, 995, 1071)):
    ftext(xd, y, f"Downregulated\nDEGs ({nd})", fontsize=16, fontweight="bold", color="#B5504C",
          ha="center", va="center", linespacing=1.05)
    ftext(xu, y, f"Upregulated\nDEGs ({nu})", fontsize=16, fontweight="bold", color="#26BE26",
          ha="center", va="center", linespacing=1.05)


# ---------------- bar charts ----------------
def barchart(box, ylim, genes, fc, hi, lo, lab_dx, lab_dy, dots_pos, ylab_xy):
    ax = px_axes(*box)
    ax.set_yscale("log")
    ax.set_ylim(*ylim)
    ax.set_xlim(0, 11)
    pos = [i + 0.5 for i in range(5)] + [i + 0.5 for i in range(6, 11)]
    fc = np.array(fc)
    ax.bar(pos, fc - 1, bottom=1, width=0.4, color=LAV, edgecolor="#3A3A3A", linewidth=0.9, zorder=2)
    ax.errorbar(pos, fc, yerr=[fc - np.array(lo), np.array(hi) - fc], fmt="none", ecolor="black",
                elinewidth=1.6, capsize=4, capthick=1.6, zorder=3)
    ax.spines["top"].set_visible(False)
    ax.spines["right"].set_visible(False)
    ax.spines["bottom"].set_position(("data", 1))
    ax.spines["bottom"].set_linewidth(2.2)
    ax.spines["bottom"].set_zorder(4)
    ax.spines["left"].set_linewidth(1.8)
    ax.set_xticks(range(12))
    ax.tick_params(axis="x", direction="out", length=5, width=1.8, labelbottom=False)
    ax.tick_params(axis="y", which="major", direction="out", length=5, width=1.6, labelsize=15, pad=1)
    ax.tick_params(axis="y", which="minor", length=0)
    dec = [10.0 ** k for k in range(int(round(np.log10(ylim[0]))), int(round(np.log10(ylim[1]))) + 1)]
    ax.set_yticks(dec)
    ax.set_yticklabels([f"{v:g}" for v in dec])
    ax.set_ylabel("Fold change", fontsize=16)
    ax.yaxis.set_label_coords(*ylab_xy)
    tr = blended_transform_factory(ax.transData, ax.transAxes)
    hpx = box[3] - box[1]
    for p, g in zip(pos, genes):
        ax.text(p + lab_dx, -lab_dy / hpx, g, transform=tr, rotation=42, rotation_mode="anchor",
                ha="right", va="top", fontsize=16.5, fontstyle="italic", color=TXT)
    ax.text(dots_pos[0], -dots_pos[1] / hpx, "\u2026", transform=tr, ha="center", va="center",
            fontsize=16, color=TXT)
    return ax


barchart((215, 2093, 1327, 2651), (0.01, 1000), C_GENES, C_FC, C_HI, C_LO, -0.1, 40, (5.1, 120), (-0.129, 0.527))
barchart((1526, 2152, 2651, 2692), (0.01, 100), F_GENES, F_FC, F_HI, F_LO, 0.25, 14, (5.4, 28), (-0.101, 0.567))
barchart((2891, 2197, 3988, 2739), (0.001, 100), I_GENES, I_FC, I_HI, I_LO, 0.15, 14, (5.4, 75), (-0.119, 0.618))

# ---------------- panel letters ----------------
for s, x, y in (("a", 40, 189), ("b", 41, 885), ("c", 41, 2027), ("d", 1405, 189), ("e", 1401, 878),
                ("f", 1386, 2041), ("g", 2678, 180), ("h", 2678, 885), ("i", 2721, 2054)):
    ftext(x, y, s, fontsize=36, fontweight="bold", color=TXT, ha="left", va="baseline")

# ---------------- legend ----------------
for (sx, tx), lab, col in zip(((244, 318), (1588, 1684), (2494, 2592), (3284, 3373)), LEGEND_LABELS,
                              (LAV, PIE_RED, PIE_GREEN, PIE_BLUE)):
    fig.add_artist(Rectangle((sx / W, 1 - 3092 / H), 48 / W, 48 / H, transform=fig.transFigure,
                             facecolor=col, edgecolor="#222222", linewidth=1.5))
    ftext(tx, 3068, lab, fontsize=15, ha="left", va="center", color=TXT)

fig.savefig("out.png", dpi=DPI, facecolor="white")
